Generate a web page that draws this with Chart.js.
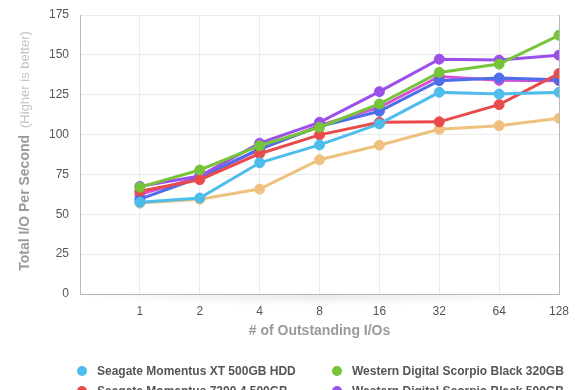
<!DOCTYPE html>
<html><head><meta charset="utf-8">
<script src="https://cdn.jsdelivr.net/npm/chart.js@4"></script>
<style>
html,body{margin:0;padding:0;background:#fff;overflow:hidden}
#wrap{position:relative;width:580px;height:390px;overflow:hidden}
canvas{display:block}
#legend{position:absolute;left:0;top:0;width:580px;font:bold 12px "Liberation Sans",Arial,sans-serif;color:#555}
.item{position:absolute;white-space:nowrap;height:20px;line-height:20px}
.dot{position:absolute;left:-20px;top:5px;width:10px;height:10px;border-radius:50%}
</style></head>
<body><div id="wrap"><canvas id="c" width="580" height="390"></canvas><div id="legend"></div></div>
<script>
// ---- data ----
const categories = ['1', '2', '4', '8', '16', '32', '64', '128'];
const yTickValues = [0, 25, 50, 75, 100, 125, 150, 175];
const xTitle = '# of Outstanding I/Os';
const yTitle = 'Total I/O Per Second';
const yTitleNote = '(Higher is better)';

const seriesNames = [
  'Seagate Momentus XT 500GB HDD',
  'Western Digital Scorpio Black 320GB',
  'Seagate Momentus 7200.4 500GB',
  'Western Digital Scorpio Black 500GB',
  'Hitachi Travelstar 7K500 500GB',
  'Toshiba MK5065GSX 500GB',
  'Samsung Spinpoint M7 500GB'
];
const momentusXT   = [57.5, 60.2, 82.3, 93.5, 106.7, 126.5, 125.4, 126.5];
const scorpio320   = [67.0, 77.8, 93.0, 104.6, 119.2, 139.0, 144.2, 162.3];
const momentus7200 = [64.5, 71.7, 88.0, 99.8, 107.7, 108.0, 118.8, 138.3];
const scorpio500   = [67.5, 74.0, 94.6, 107.7, 126.9, 147.3, 146.7, 149.8];
const travelstar   = [59.5, 73.0, 91.0, 105.0, 114.6, 133.8, 135.5, 134.4];
const toshiba      = [62.5, 73.2, 90.5, 105.8, 117.0, 136.4, 134.0, 133.8];
const spinpoint    = [57.0, 59.5, 65.8, 84.2, 93.3, 103.3, 105.6, 110.2];
const seriesValues = [momentusXT, scorpio320, momentus7200, scorpio500, travelstar, toshiba, spinpoint];
const seriesColors = ['#4dbdec', '#76c43a', '#e94b4b', '#9b50ea', '#4d6ee8', '#d550d6', '#eec17e'];

// ---- chart ----
const FONT = '"Liberation Sans", Arial, sans-serif';
const datasets = seriesNames.map((name, i) => ({
  label: name,
  data: seriesValues[i].map((v, j) => ({ x: j + 1, y: v })),
  borderColor: seriesColors[i],
  backgroundColor: seriesColors[i],
  pointBackgroundColor: seriesColors[i],
  pointBorderColor: seriesColors[i],
  borderWidth: 3,
  pointRadius: 5,
  pointBorderWidth: 1,
  pointHoverRadius: 5,
  tension: 0
}));

const decor = {
  id: 'decor',
  beforeDraw(chart) {
    const { ctx, chartArea: a } = chart;
    ctx.save();
    const cx = (a.left + a.right) / 2;
    ctx.translate(cx, a.bottom);
    ctx.scale((a.right - a.left) / 2 + 10, 12);
    const g = ctx.createRadialGradient(0, 0, 0, 0, 0, 1);
    g.addColorStop(0, 'rgba(0,0,0,0.09)');
    g.addColorStop(1, 'rgba(0,0,0,0)');
    ctx.fillStyle = g;
    ctx.fillRect(-1, 0, 2, 1);
    ctx.restore();
  },
  afterDraw(chart) {
    const { ctx, chartArea: a } = chart;
    ctx.save();
    ctx.translate(25, 151);
    ctx.rotate(-Math.PI / 2);
    ctx.textBaseline = 'middle';
    ctx.textAlign = 'left';
    ctx.font = 'bold 14px ' + FONT;
    const w1 = ctx.measureText(yTitle).width;
    ctx.font = '13px ' + FONT;
    const w2 = ctx.measureText(yTitleNote).width;
    const gap = 7;
    const x0 = -(w1 + gap + w2) / 2;
    ctx.font = 'bold 14px ' + FONT;
    ctx.fillStyle = '#9a9a9a';
    ctx.fillText(yTitle, x0, 0);
    ctx.font = '13px ' + FONT;
    ctx.fillStyle = '#c2c2c2';
    ctx.fillText(yTitleNote, x0 + w1 + gap, 0);
    ctx.restore();
    ctx.save();
    ctx.font = 'bold 14px ' + FONT;
    ctx.fillStyle = '#9a9a9a';
    ctx.textAlign = 'center';
    ctx.textBaseline = 'middle';
    ctx.fillText(xTitle, (a.left + a.right) / 2, a.bottom + 37);
    ctx.restore();
  }
};

new Chart(document.getElementById('c'), {
  type: 'line',
  data: { datasets },
  options: {
    responsive: false,
    animation: false,
    devicePixelRatio: 1,
    layout: { padding: { top: 15, right: 21, left: 0, bottom: 0 } },
    plugins: { legend: { display: false }, tooltip: { enabled: false } },
    scales: {
      x: {
        type: 'linear', min: 0, max: categories.length,
        afterBuildTicks: s => { s.ticks = [{ value: 0 }].concat(categories.map((c, i) => ({ value: i + 1 }))); },
        ticks: {
          callback: v => categories[v - 1] || '',
          color: '#555', font: { family: FONT, size: 12 }, padding: 10, maxRotation: 0, autoSkip: false
        },
        grid: {
          color: c => (c.tick && c.tick.value === categories.length) ? '#b8b8b8' : '#ebebeb',
          drawTicks: false
        },
        border: { color: '#b8b8b8' },
        afterFit: s => { s.height = 96; s.paddingLeft = 0; s.paddingRight = 0; }
      },
      y: {
        min: 0, max: yTickValues[yTickValues.length - 1],
        afterBuildTicks: s => { s.ticks = yTickValues.map(v => ({ value: v })); },
        ticks: { color: '#555', font: { family: FONT, size: 12 }, padding: 11 },
        grid: { color: '#ebebeb', drawTicks: false },
        border: { color: '#b8b8b8' },
        afterFit: s => { s.width = 80; s.paddingTop = 0; s.paddingBottom = 0; }
      }
    }
  },
  plugins: [decor]
});

// ---- legend (HTML, two columns) ----
const legend = document.getElementById('legend');
const colX = [97, 352];
seriesNames.forEach((name, i) => {
  const it = document.createElement('div');
  it.className = 'item';
  it.style.left = colX[i % 2] + 'px';
  it.style.top = (361 + Math.floor(i / 2) * 20) + 'px';
  const d = document.createElement('span');
  d.className = 'dot';
  d.style.background = seriesColors[i];
  it.appendChild(d);
  it.appendChild(document.createTextNode(name));
  legend.appendChild(it);
});
</script>
</body></html>
